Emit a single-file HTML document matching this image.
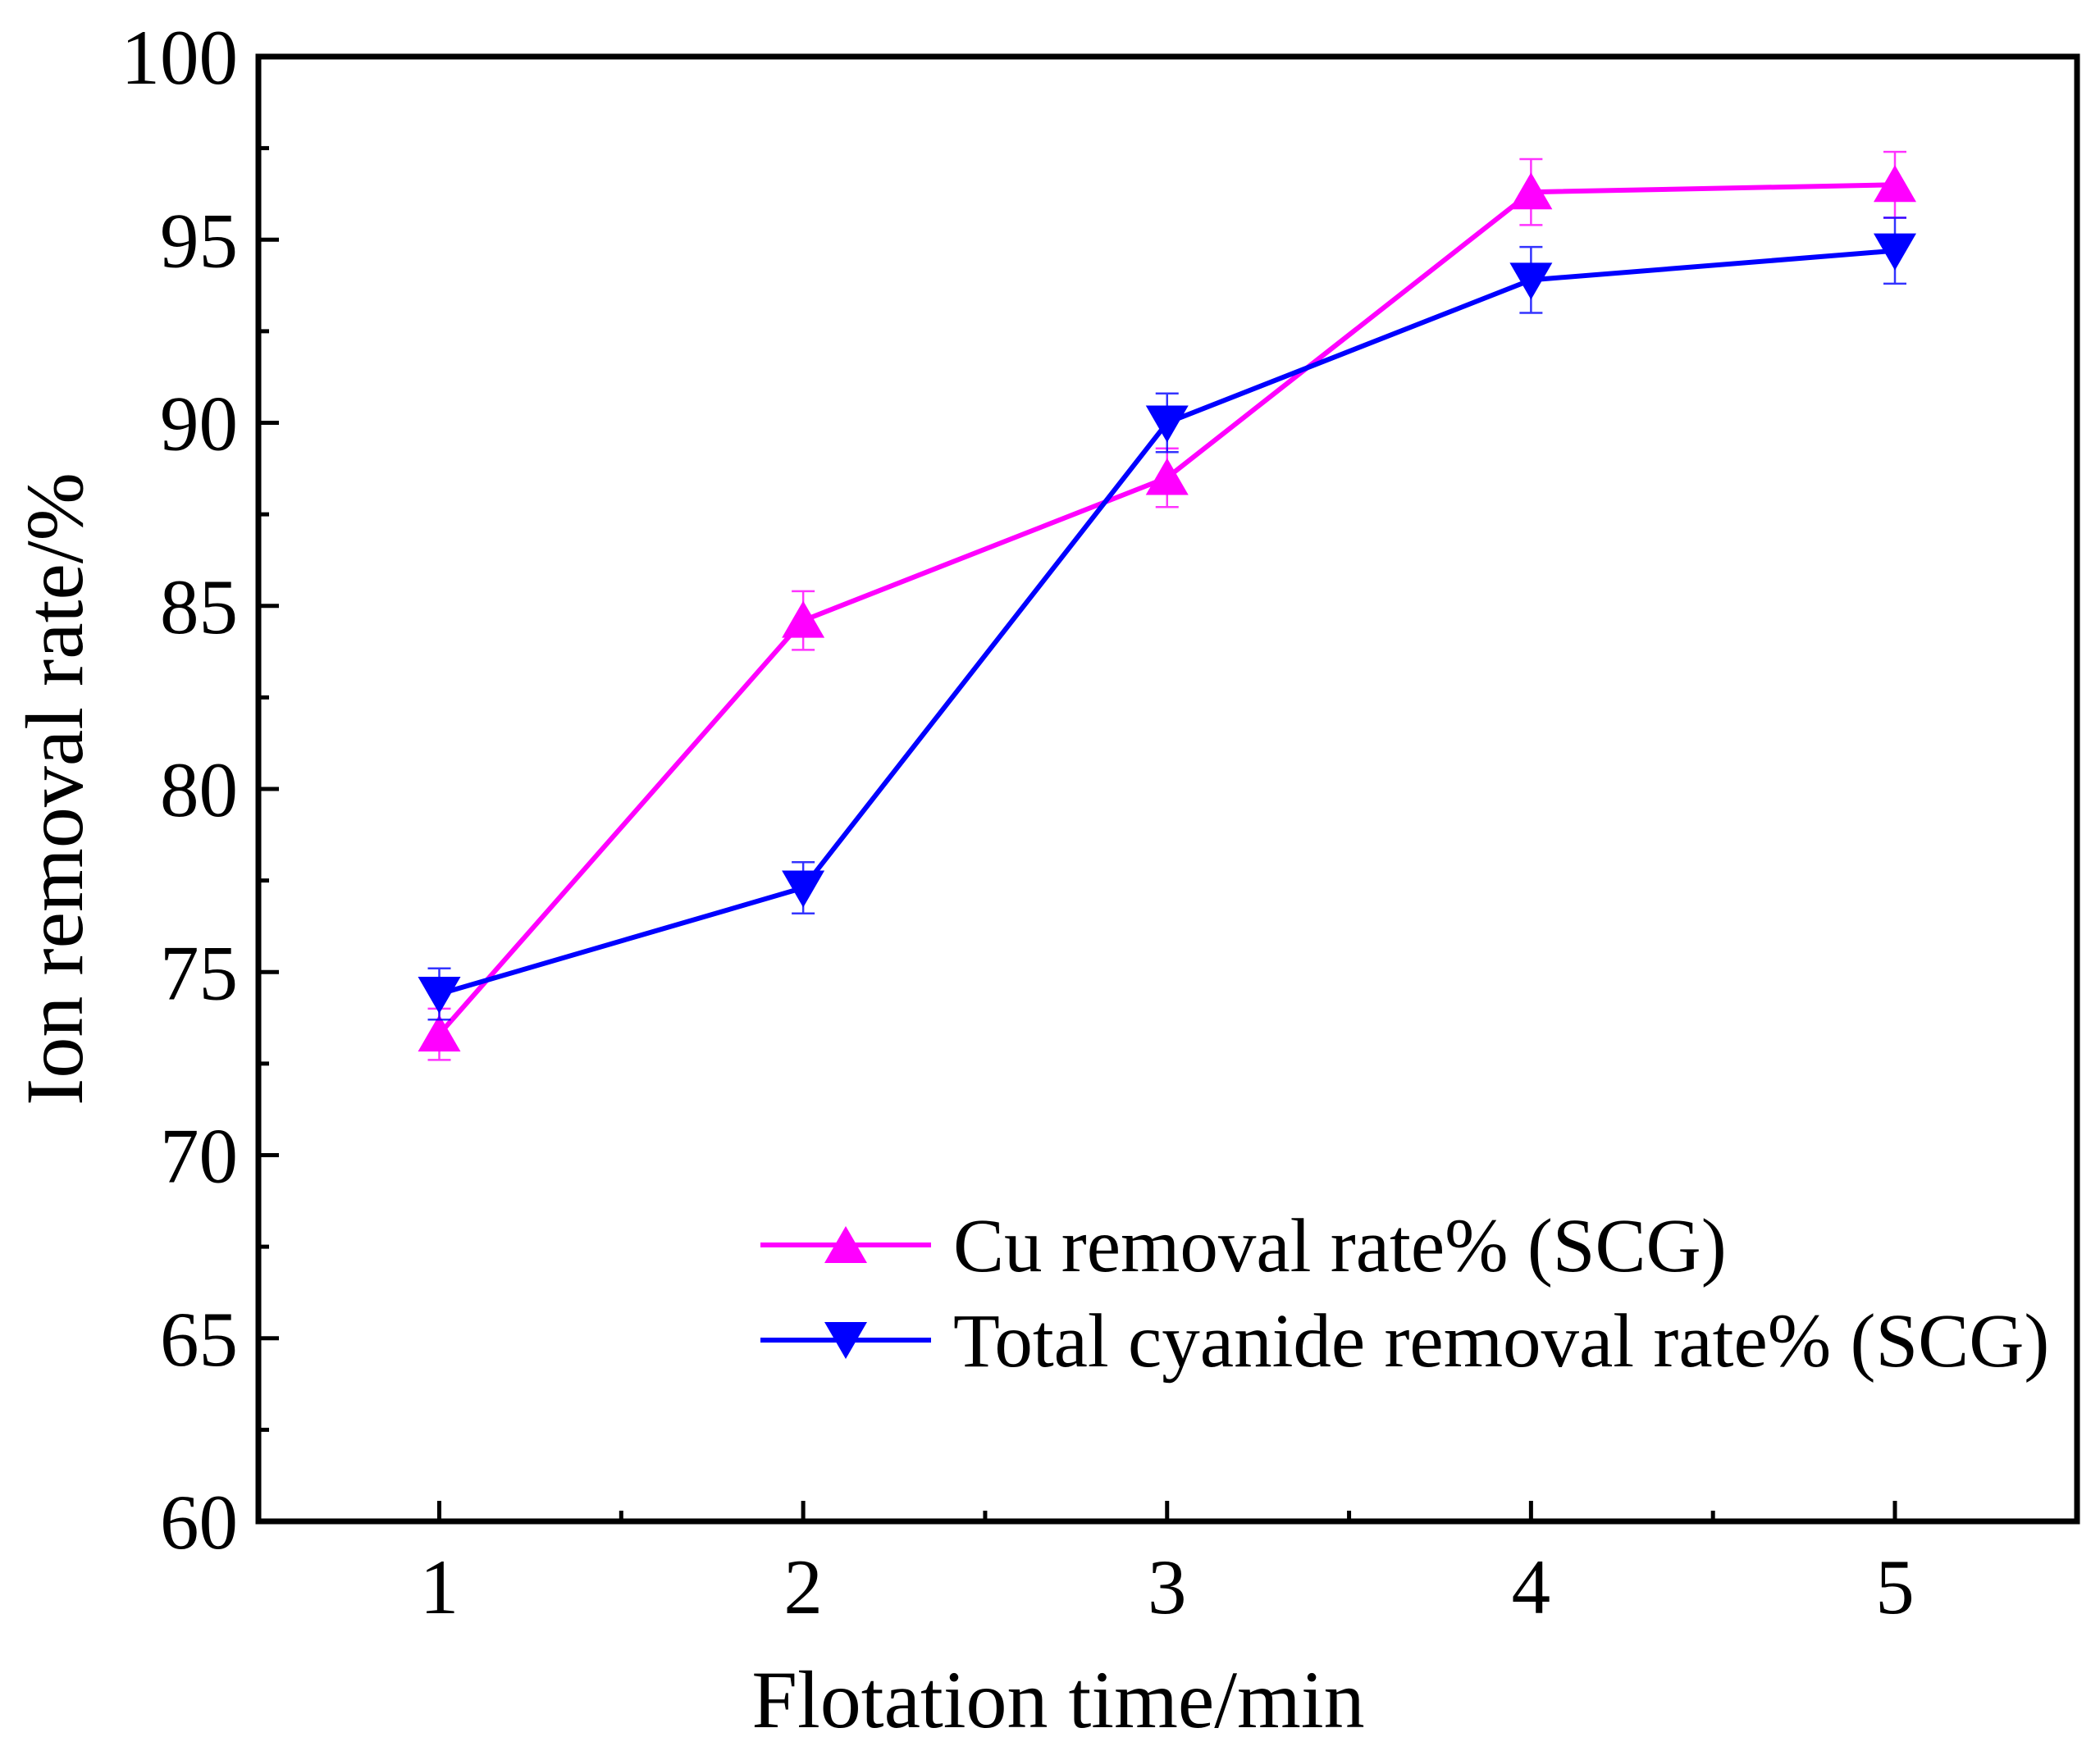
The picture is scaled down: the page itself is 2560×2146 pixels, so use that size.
<!DOCTYPE html>
<html><head><meta charset="utf-8"><style>
html,body{margin:0;padding:0;background:#fff}
svg{display:block;font-family:"Liberation Serif",serif}
</style></head><body>
<svg id="chart" width="2560" height="2146" viewBox="0 0 2560 2146" xmlns="http://www.w3.org/2000/svg">
<g id="marks"></g>
<rect x="315" y="69" width="2217" height="1786" fill="none" stroke="#000" stroke-width="7"/>
<g id="axes"></g>
<text x="1290" y="2106" font-size="100" text-anchor="middle">Flotation time/min</text>
<text transform="translate(100,962) rotate(-90)" font-size="100" text-anchor="middle">Ion removal rate/%</text>
<g id="legend">
<line x1="927" y1="1518" x2="1135" y2="1518" stroke="#ff00ff" stroke-width="6"/>
<polygon points="1031,1495 1057,1540 1005,1540" fill="#ff00ff"/>
<text x="1162" y="1550" font-size="93">Cu removal rate% (SCG)</text>
<line x1="927" y1="1634" x2="1135" y2="1634" stroke="#0000ff" stroke-width="6"/>
<polygon points="1005,1612 1057,1612 1031,1657" fill="#0000ff"/>
<text x="1162" y="1666" font-size="93">Total cyanide removal rate% (SCG)</text>
</g>
</svg>
<script>
const categories = [1, 2, 3, 4, 5];
const cuValues = [73.3, 84.6, 88.5, 96.3, 96.5];
const cuErrors = [0.7, 0.8, 0.8, 0.9, 0.9];
const cnValues = [74.4, 77.3, 90.0, 93.9, 94.7];
const cnErrors = [0.7, 0.7, 0.8, 0.9, 0.9];
const yTicks = [60, 65, 70, 75, 80, 85, 90, 95, 100];
const xTicks = [1, 2, 3, 4, 5];

const NS = "http://www.w3.org/2000/svg";
const X0 = 535.5, X1 = 2310, Y0 = 1855, Y1 = 69;
function xs(v){ return X0 + (v - 1) * (X1 - X0) / 4; }
function ys(v){ return Y0 - (v - 60) * (Y0 - Y1) / 40; }
function mk(tag, attrs, parent){
  const e = document.createElementNS(NS, tag);
  for (const k in attrs) e.setAttribute(k, attrs[k]);
  parent.appendChild(e);
  return e;
}
const axes = document.getElementById('axes');
const marks = document.getElementById('marks');

yTicks.forEach((t, i) => {
  const y = ys(t);
  const tk = mk('line', {x1: 315, y1: y, x2: 340, y2: y, stroke: '#000', 'stroke-width': 5}, axes);
  
  
  const lb = mk('text', {x: 290, y: y + 33, 'font-size': 95, 'text-anchor': 'end'}, axes);
  lb.textContent = t;
  
  
  if (i < yTicks.length - 1) {
    const ym = ys(t + 2.5);
    const mn = mk('line', {x1: 315, y1: ym, x2: 328, y2: ym, stroke: '#000', 'stroke-width': 5}, axes);
    
    
  }
});
xTicks.forEach((t, i) => {
  const x = xs(t);
  const tk = mk('line', {x1: x, y1: 1855, x2: x, y2: 1830, stroke: '#000', 'stroke-width': 5}, axes);
  
  
  const lb = mk('text', {x: x, y: 1967, 'font-size': 95, 'text-anchor': 'middle'}, axes);
  lb.textContent = t;
  
  
  if (i < xTicks.length - 1) {
    const xm = xs(t + 0.5);
    const mn = mk('line', {x1: xm, y1: 1855, x2: xm, y2: 1842, stroke: '#000', 'stroke-width': 5}, axes);
    
    
  }
});

function drawSeries(vals, errs, color, down, name){
  const g = mk('g', {}, marks);
  
  
  vals.forEach((v, i) => {
    const x = xs(categories[i]), yt = ys(v + errs[i]), yb = ys(v - errs[i]);
    const eb = mk('path', {d: `M${x},${yt}V${yb}M${x-14},${yt}H${x+14}M${x-14},${yb}H${x+14}`, stroke: color, 'stroke-width': 2.5, fill: 'none', opacity: 0.8}, g);
    
    
  });
  const pts = vals.map((v, i) => xs(categories[i]) + ',' + ys(v)).join(' ');
  const ln = mk('polyline', {points: pts, stroke: color, 'stroke-width': 6, fill: 'none'}, g);
  
  
  vals.forEach((v, i) => {
    const x = xs(categories[i]), y = ys(v);
    const p = down ? `${x-26},${y-21} ${x+26},${y-21} ${x},${y+24}` : `${x},${y-24} ${x+26},${y+21} ${x-26},${y+21}`;
    const m = mk('polygon', {points: p, fill: color}, g);
    
    
  });
}
drawSeries(cuValues, cuErrors, '#ff00ff', false, 'cu');
drawSeries(cnValues, cnErrors, '#0000ff', true, 'cyanide');
</script>
</body></html>
